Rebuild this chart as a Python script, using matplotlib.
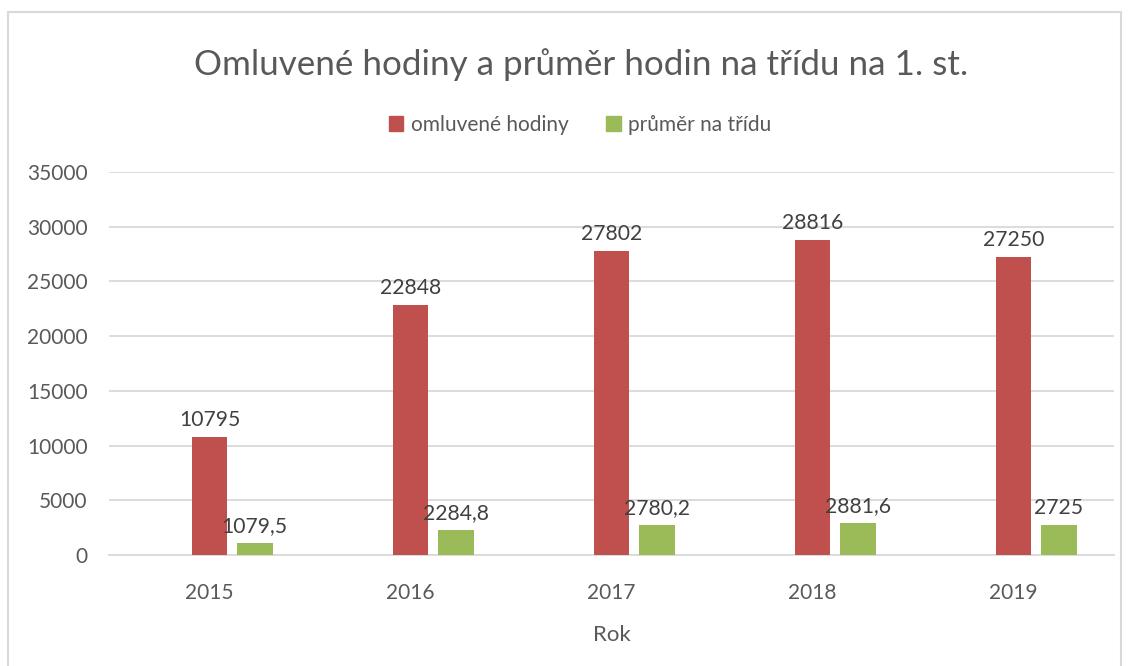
import matplotlib.pyplot as plt
import matplotlib.patches as mpatches
import numpy as np

plt.rcParams['font.family'] = ['Lato', 'DejaVu Sans']

roky = ['2015', '2016', '2017', '2018', '2019']
omluvene = [10795, 22848, 27802, 28816, 27250]
prumer = [1079.5, 2284.8, 2780.2, 2881.6, 2725]
prumer_popisky = ['1079,5', '2284,8', '2780,2', '2881,6', '2725']

cervena = '#C0504D'
zelena = '#9BBB59'
text_barva = '#595959'
mrizka = '#D9D9D9'

W, H = 1132, 666
fig = plt.figure(figsize=(W / 100, H / 100), dpi=100)
ax = fig.add_axes([109 / W, 1 - 555 / H, 1005 / W, (555 - 172) / H])

x = np.arange(len(roky))
sirka = 0.179
posun = 0.224

ax.bar(x, omluvene, sirka, color=cervena, zorder=3)
ax.bar(x + posun, prumer, sirka, color=zelena, zorder=3)

for xi, v in zip(x, omluvene):
    ax.annotate(str(v), (xi, v), xytext=(0, 5), textcoords='offset points',
                ha='center', va='bottom', fontsize=15.2, color='#404040')
for xi, v, s in zip(x, prumer, prumer_popisky):
    ax.annotate(s, (xi + posun, v), xytext=(0, 5), textcoords='offset points',
                ha='center', va='bottom', fontsize=15.2, color='#404040')

ax.set_xlim(-0.5, 4.5)
ax.set_ylim(0, 35000)
ax.set_yticks(range(0, 35001, 5000))
ax.set_xticks(x)
ax.set_xticklabels(roky)
ax.yaxis.grid(True, color=mrizka, linewidth=1.3, zorder=0)
ax.tick_params(axis='both', length=0, labelsize=15, colors=text_barva)
ax.tick_params(axis='y', pad=15.5)
ax.tick_params(axis='x', pad=20)
for s in ['top', 'right', 'left']:
    ax.spines[s].set_visible(False)
ax.spines['bottom'].set_color(mrizka)
ax.spines['bottom'].set_linewidth(1.3)

ax.set_xlabel('Rok', fontsize=16, color=text_barva, labelpad=16)

fig.text(581 / W, 1 - 65 / H, 'Omluvené hodiny a průměr hodin na třídu na 1. st.',
         ha='center', va='center', fontsize=25.2, color=text_barva)

h1 = mpatches.Patch(color=cervena, label='omluvené hodiny')
h2 = mpatches.Patch(color=zelena, label='průměr na třídu')
fig.legend(handles=[h1, h2], loc='center', bbox_to_anchor=(580 / W, 1 - 125 / H),
           ncol=2, frameon=False, fontsize=15, handlelength=0.7, handleheight=0.7,
           handletextpad=0.35, columnspacing=1.8, labelcolor=text_barva)

ramecek = mpatches.Rectangle((8 / W, -0.1), (1121 - 8) / W, 1.1 - 12 / H,
                             transform=fig.transFigure, fill=False,
                             edgecolor=mrizka, linewidth=1.5)
fig.patches.append(ramecek)

fig.savefig('out.png', dpi=100)
